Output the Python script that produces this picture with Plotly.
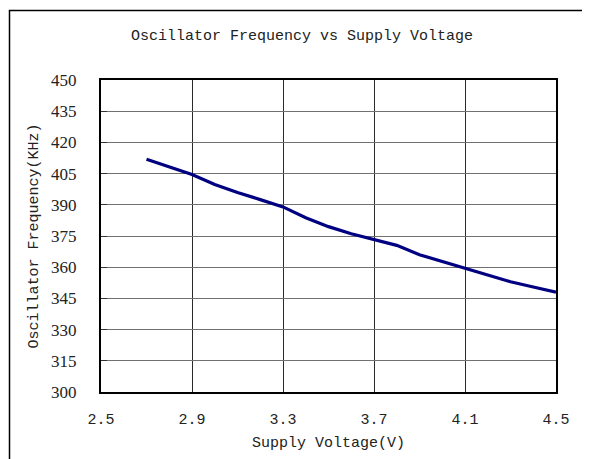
import plotly.graph_objects as go

voltage = [2.7, 2.8, 2.9, 3.0, 3.1, 3.2, 3.3, 3.4, 3.5, 3.6, 3.7, 3.8, 3.9, 4.0, 4.1, 4.2, 4.3, 4.4, 4.5]
frequency = [411.9, 408.3, 404.6, 399.8, 395.9, 392.5, 389.0, 383.8, 379.5, 376.1, 373.3, 370.5,
             366.0, 362.7, 359.8, 356.5, 353.0, 350.5, 348.0]

x_ticks = [2.5, 2.9, 3.3, 3.7, 4.1, 4.5]
y_ticks = [300, 315, 330, 345, 360, 375, 390, 405, 420, 435, 450]

FONT = "Liberation Mono"
SERIF = "Liberation Serif"
TXT = "#222222"

# the page adds an 8px body margin, so the figure is sized/offset to compensate
W, H = 582, 451
L, T = 93, 72
PW, PH = 455, 312

fig = go.Figure()
fig.add_trace(go.Scatter(
    x=voltage, y=frequency, mode="lines",
    line=dict(color="#000080", width=3.2),
    showlegend=False, hoverinfo="x+y",
))

fig.update_layout(
    width=W, height=H,
    margin=dict(l=L, r=W - L - PW, t=T, b=H - T - PH, autoexpand=False),
    paper_bgcolor="white", plot_bgcolor="white",
    font=dict(family=FONT, size=15, color=TXT),
    title=dict(text="Oscillator Frequency vs Supply Voltage",
               x=294 / W, xref="container", xanchor="center",
               y=1 - 27 / H, yref="container", yanchor="middle",
               font=dict(family=FONT, size=15, color=TXT)),
    xaxis=dict(range=[2.5, 4.5], tickvals=x_ticks, ticktext=[f"{v:.1f}" for v in x_ticks],
               showgrid=True, gridcolor="#2a2a2a", gridwidth=1,
               showline=True, linecolor="black", linewidth=2, mirror=True,
               ticks="", ticklabelstandoff=12, zeroline=False,
               title=dict(text="Supply Voltage(V)", standoff=8,
                          font=dict(family=FONT, size=15, color=TXT))),
    yaxis=dict(range=[300, 450], tickvals=y_ticks,
               tickfont=dict(family=SERIF, size=17, color=TXT),
               showgrid=True, gridcolor="#707070", gridwidth=1,
               showline=True, linecolor="black", linewidth=2, mirror=True,
               ticks="inside", ticklen=6, tickcolor="#333333", tickwidth=1,
               ticklabelstandoff=19, zeroline=False,
               title=dict(text="Oscillator Frequency(KHz)", standoff=9,
                          font=dict(family=FONT, size=15, color=TXT))),
)

# outer frame (extends past the right and bottom edges, as in the cropped original)
fig.add_shape(type="rect", xref="paper", yref="paper",
              x0=(1.5 - L) / PW, x1=1.3, y0=-0.4, y1=(T + PH - 2.5) / PH,
              line=dict(color="black", width=1.5), fillcolor="rgba(0,0,0,0)", layer="below")

fig.write_html("out.html")
